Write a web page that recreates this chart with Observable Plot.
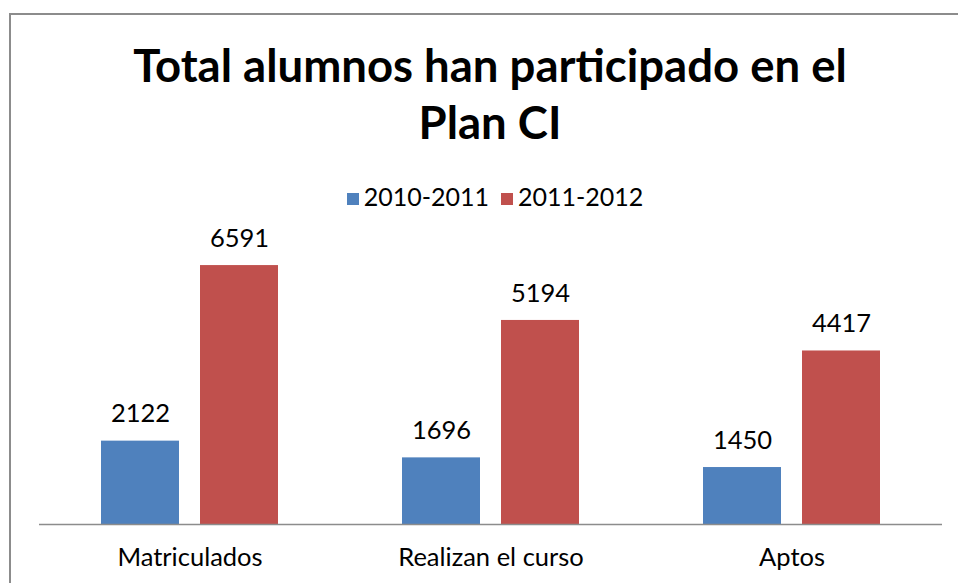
<!DOCTYPE html>
<html><head><meta charset="utf-8">
<script src="https://cdn.jsdelivr.net/npm/d3@7"></script>
<script src="https://cdn.jsdelivr.net/npm/@observablehq/plot@0.6"></script>
<style>
html,body{margin:0;padding:0;background:#fff;overflow:hidden;width:958px;height:583px;}
#wrap{position:relative;width:958px;height:583px;overflow:hidden;font-family:Lato,"Open Sans",sans-serif;}
#frame{position:absolute;left:9px;top:13px;width:1000px;height:1000px;border:2px solid #8c8c8c;box-sizing:border-box;}
#title{position:absolute;left:0;width:980px;top:36px;text-align:center;font-weight:bold;font-size:45.5px;line-height:57px;color:#000;}
#legend{position:absolute;left:0;width:990px;top:181px;text-align:center;font-size:25px;color:#000;}
#legend span.sw{display:inline-block;width:12px;height:12px;margin-right:5px;vertical-align:1px;}
#legend span.it{margin:0 6px;}
#chart{position:absolute;left:0;top:0;}
</style></head>
<body><div id="wrap"><div id="frame"></div>
<div id="title">Total alumnos han participado en el<br>Plan CI</div>
<div id="legend"></div>
<div id="chart"></div></div>
<script>
const categories = ["Matriculados", "Realizan el curso", "Aptos"];
const series = ["2010-2011", "2011-2012"];
const values2010 = [2122, 1696, 1450];
const values2011 = [6591, 5194, 4417];
const colors = ["#4F81BD", "#C0504D"];

const data = [];
categories.forEach((c, i) => {
  data.push({cat: c, serie: series[0], value: values2010[i]});
  data.push({cat: c, serie: series[1], value: values2011[i]});
});

document.getElementById("legend").innerHTML = series.map((s, i) =>
  `<span class="it"><span class="sw" style="background:${colors[i]}"></span>${s}</span>`).join("");

const plot = Plot.plot({
  width: 958,
  height: 583,
  marginLeft: 38,
  marginRight: 15,
  marginTop: 249,
  marginBottom: 59,
  style: {fontFamily: "Lato, 'Open Sans', sans-serif", background: "transparent"},
  fx: {domain: categories, padding: 0, label: null},
  x: {domain: series, paddingInner: 0.21, paddingOuter: 0.6135, axis: null},
  y: {domain: [0, 7000], axis: null},
  color: {domain: series, range: colors},
  marks: [
    Plot.barY(data, {fx: "cat", x: "serie", y: "value", fill: "serie"}),
    Plot.text(data, {fx: "cat", x: "serie", y: "value", text: d => String(d.value), dy: -27, fontSize: 25.5, fill: "#000"}),
    Plot.ruleY([0], {stroke: "#8c8c8c", strokeWidth: 1.5}),
    Plot.axisFx({anchor: "bottom", tickSize: 0, tickPadding: 23, fontSize: 25.5, label: null, color: "#000"})
  ]
});
document.getElementById("chart").appendChild(plot);
</script></body></html>
